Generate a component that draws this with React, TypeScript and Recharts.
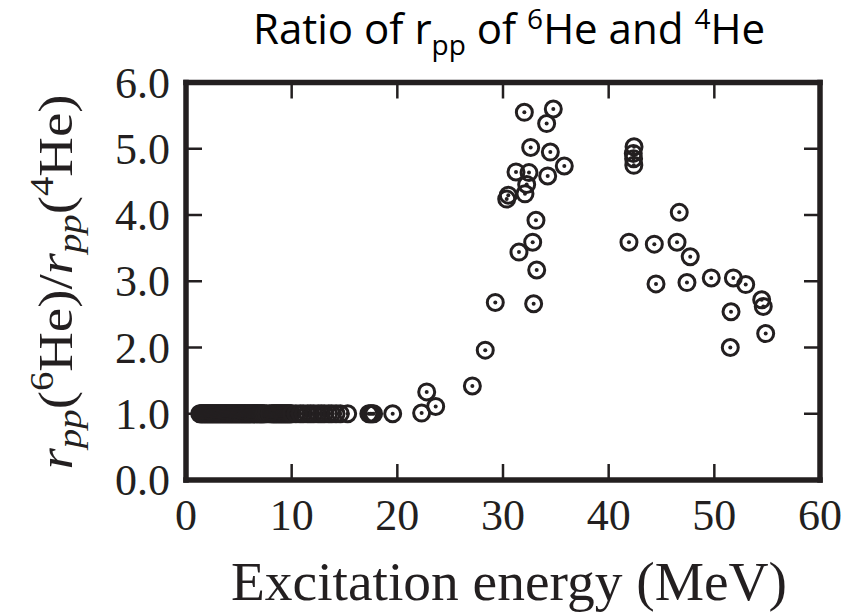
import React from "react";
import { ScatterChart, Scatter, XAxis, YAxis } from "recharts";

const INK = "#231f20";
const SERIF = "'Liberation Serif', 'DejaVu Serif', serif";

// axis ticks
const xTicks = [0, 10, 20, 30, 40, 50, 60];
const yTicks = [0, 1, 2, 3, 4, 5, 6];
const xInnerTicks = [10, 20, 30, 40, 50];
const yInnerTicks = [1, 2, 3, 4, 5];

// low-energy plateau, all at ratio 1.0
const plateauEnergy = [
    1.3, 1.4, 1.5, 1.6, 1.7, 1.8, 1.9, 2.0, 2.1, 2.2, 2.3, 2.4, 2.5, 2.6, 2.7,
    2.8, 2.9, 3.0, 3.1, 3.2, 3.3, 3.4, 3.5, 3.6, 3.7, 3.8, 3.9, 4.0, 4.1, 4.2,
    4.3, 4.4, 4.5, 4.6, 4.7, 4.8, 4.9, 5.0, 5.1, 5.2, 5.3, 5.4, 5.5, 5.6, 5.7,
    5.8, 5.9, 6.0, 6.1, 6.2, 6.3, 6.4, 6.5, 6.6, 6.7, 6.8, 6.9, 7.0, 7.1, 7.2,
    7.3, 7.4, 7.6, 7.9, 8.1, 8.2, 8.3, 8.4, 8.5, 8.6, 8.7, 8.8, 8.9, 9.0, 9.1,
    9.2, 9.3, 9.4, 9.5, 9.6, 9.7, 9.8, 9.9, 10.0, 10.4, 10.8, 11.1, 11.5, 11.8,
    12.1, 12.5, 12.8, 13.1, 13.5, 13.8, 14.2, 14.6, 15.3, 17.3, 17.45, 17.6,
    17.75,
];
const plateauRatio = plateauEnergy.map(() => 1.0);

// rise and peak around 30 MeV
const riseEnergy = [
    19.56, 22.3, 22.78, 23.63, 27.1, 28.32, 29.27, 32.9, 33.19, 31.51, 32.81,
    33.12, 30.35, 30.5, 32.08, 32.24, 34.23, 31.23, 32.46, 35.8, 34.48, 32.62,
    34.13, 32.02, 34.76,
];
const riseRatio = [
    1.0, 1.01, 1.33, 1.11, 1.42, 1.96, 2.68, 2.66, 3.17, 3.44, 3.59, 3.92, 4.24,
    4.3, 4.32, 4.46, 4.59, 4.65, 4.64, 4.74, 4.95, 5.02, 5.38, 5.55, 5.6,
];

// high-energy tail
const tailEnergy = [
    42.4, 42.33, 42.36, 42.38, 46.68, 41.92, 44.32, 46.47, 47.72, 44.48, 47.41,
    49.71, 51.8, 52.97, 54.48, 54.63, 51.58, 54.86, 51.51,
];
const tailRatio = [
    5.03, 4.93, 4.85, 4.75, 4.04, 3.59, 3.56, 3.59, 3.37, 2.96, 2.98, 3.05,
    3.05, 2.95, 2.72, 2.62, 2.54, 2.21, 2.0,
];

const toPoints = (xs: number[], ys: number[]) =>
    xs.map((x, i) => ({ x, y: ys[i] }));

const data = [
    ...toPoints(plateauEnergy, plateauRatio),
    ...toPoints(riseEnergy, riseRatio),
    ...toPoints(tailEnergy, tailRatio),
];

// tick-mark anchors on the frame, with the direction each mark points (inward)
const tickMarks = [
    ...xInnerTicks.map((t) => ({ x: t, y: 0, dx: 0, dy: -1 })),
    ...xInnerTicks.map((t) => ({ x: t, y: 6, dx: 0, dy: 1 })),
    ...yInnerTicks.map((t) => ({ x: 0, y: t, dx: 1, dy: 0 })),
    ...yInnerTicks.map((t) => ({ x: 60, y: t, dx: -1, dy: 0 })),
];

// open circle with a dot in the middle
const Ring = (props: any) => {
    const { cx, cy } = props;
    if (cx == null || cy == null) return null;
    return (
        <g>
            <circle cx={cx} cy={cy} r={8} fill="none" stroke={INK} strokeWidth={3} />
            <circle cx={cx} cy={cy} r={2} fill={INK} />
        </g>
    );
};

const TICK_LEN = 16;
const TickMark = (props: any) => {
    const { cx, cy, payload } = props;
    if (cx == null || cy == null || !payload) return null;
    return (
        <line
            x1={cx}
            y1={cy}
            x2={cx + payload.dx * TICK_LEN}
            y2={cy + payload.dy * TICK_LEN}
            stroke={INK}
            strokeWidth={2.5}
        />
    );
};

const XTick = (props: any) => {
    const { x, y, payload } = props;
    return (
        <text x={x} y={y + 50} textAnchor="middle" fontFamily={SERIF} fontSize={44} fill={INK}>
            {payload.value}
        </text>
    );
};

const YTick = (props: any) => {
    const { x, y, payload } = props;
    return (
        <text x={x - 16} y={y + 15} textAnchor="end" fontFamily={SERIF} fontSize={44} fill={INK}>
            {Number(payload.value).toFixed(1)}
        </text>
    );
};

// the thick plot frame is made of four axis lines
const frameLine = { stroke: INK, strokeWidth: 5.5, strokeLinecap: "square" as const };
const noLabel = () => "";

export default function App() {
    return (
        <div style={{ position: "absolute", left: 0, top: 0, width: 861, height: 614, background: "#fff" }}>
            <ScatterChart width={861} height={614} margin={{ top: 82.5, right: 41, bottom: 0, left: 0 }}>
                {/* labelled axes */}
                <XAxis
                    xAxisId="main"
                    type="number"
                    dataKey="x"
                    domain={[0, 60]}
                    ticks={xTicks}
                    interval={0}
                    tick={<XTick />}
                    tickLine={false}
                    axisLine={false}
                    tickSize={0}
                    tickMargin={0}
                    height={134}
                />
                <YAxis
                    yAxisId="main"
                    type="number"
                    dataKey="y"
                    domain={[0, 6]}
                    ticks={yTicks}
                    interval={0}
                    tick={<YTick />}
                    tickLine={false}
                    axisLine={false}
                    tickSize={0}
                    tickMargin={0}
                    width={186}
                />
                {/* frame */}
                <XAxis xAxisId="bottomIn" orientation="bottom" mirror type="number" domain={[0, 60]}
                    tickFormatter={noLabel} tickLine={false} axisLine={frameLine} height={20} />
                <XAxis xAxisId="topIn" orientation="top" mirror type="number" domain={[0, 60]}
                    tickFormatter={noLabel} tickLine={false} axisLine={frameLine} height={20} />
                <YAxis yAxisId="leftIn" orientation="left" mirror type="number" domain={[0, 6]}
                    tickFormatter={noLabel} tickLine={false} axisLine={frameLine} width={20} />
                <YAxis yAxisId="rightIn" orientation="right" mirror type="number" domain={[0, 6]}
                    tickFormatter={noLabel} tickLine={false} axisLine={frameLine} width={20} />
                {/* inward tick marks, placed through the main scales */}
                <Scatter
                    data={tickMarks}
                    xAxisId="main"
                    yAxisId="main"
                    shape={<TickMark />}
                    isAnimationActive={false}
                />
                <Scatter
                    data={data}
                    xAxisId="main"
                    yAxisId="main"
                    shape={<Ring />}
                    isAnimationActive={false}
                />
            </ScatterChart>
            <svg
                width={861}
                height={614}
                style={{ position: "absolute", left: 0, top: 0, pointerEvents: "none" }}
            >
                <text
                    x={509}
                    y={44}
                    textAnchor="middle"
                    fontFamily="'Open Sans', 'Noto Sans', sans-serif"
                    fontSize={42}
                    fill="#000"
                    textLength={512}
                    lengthAdjust="spacingAndGlyphs"
                >
                    Ratio of r
                    <tspan fontSize={28} dy={11}>pp</tspan>
                    <tspan dy={-11}> of </tspan>
                    <tspan fontSize={28} dy={-15}>6</tspan>
                    <tspan dy={15}>He and </tspan>
                    <tspan fontSize={28} dy={-15}>4</tspan>
                    <tspan dy={15}>He</tspan>
                </text>
                <text
                    transform="translate(72,282) rotate(-90)"
                    textAnchor="middle"
                    fontFamily={SERIF}
                    fontSize={48}
                    fill={INK}
                    textLength={375}
                    lengthAdjust="spacingAndGlyphs"
                >
                    <tspan fontStyle="italic">r</tspan>
                    <tspan fontStyle="italic" fontSize={34} dy={9}>pp</tspan>
                    <tspan dy={-9}>(</tspan>
                    <tspan fontSize={34} dy={-19}>6</tspan>
                    <tspan dy={19}>He)/</tspan>
                    <tspan fontStyle="italic">r</tspan>
                    <tspan fontStyle="italic" fontSize={34} dy={9}>pp</tspan>
                    <tspan dy={-9}>(</tspan>
                    <tspan fontSize={34} dy={-19}>4</tspan>
                    <tspan dy={19}>He)</tspan>
                </text>
                <text
                    x={509}
                    y={600}
                    textAnchor="middle"
                    fontFamily={SERIF}
                    fontSize={54}
                    fill={INK}
                    textLength={556}
                    lengthAdjust="spacingAndGlyphs"
                >
                    Excitation energy (MeV)
                </text>
            </svg>
        </div>
    );
}
